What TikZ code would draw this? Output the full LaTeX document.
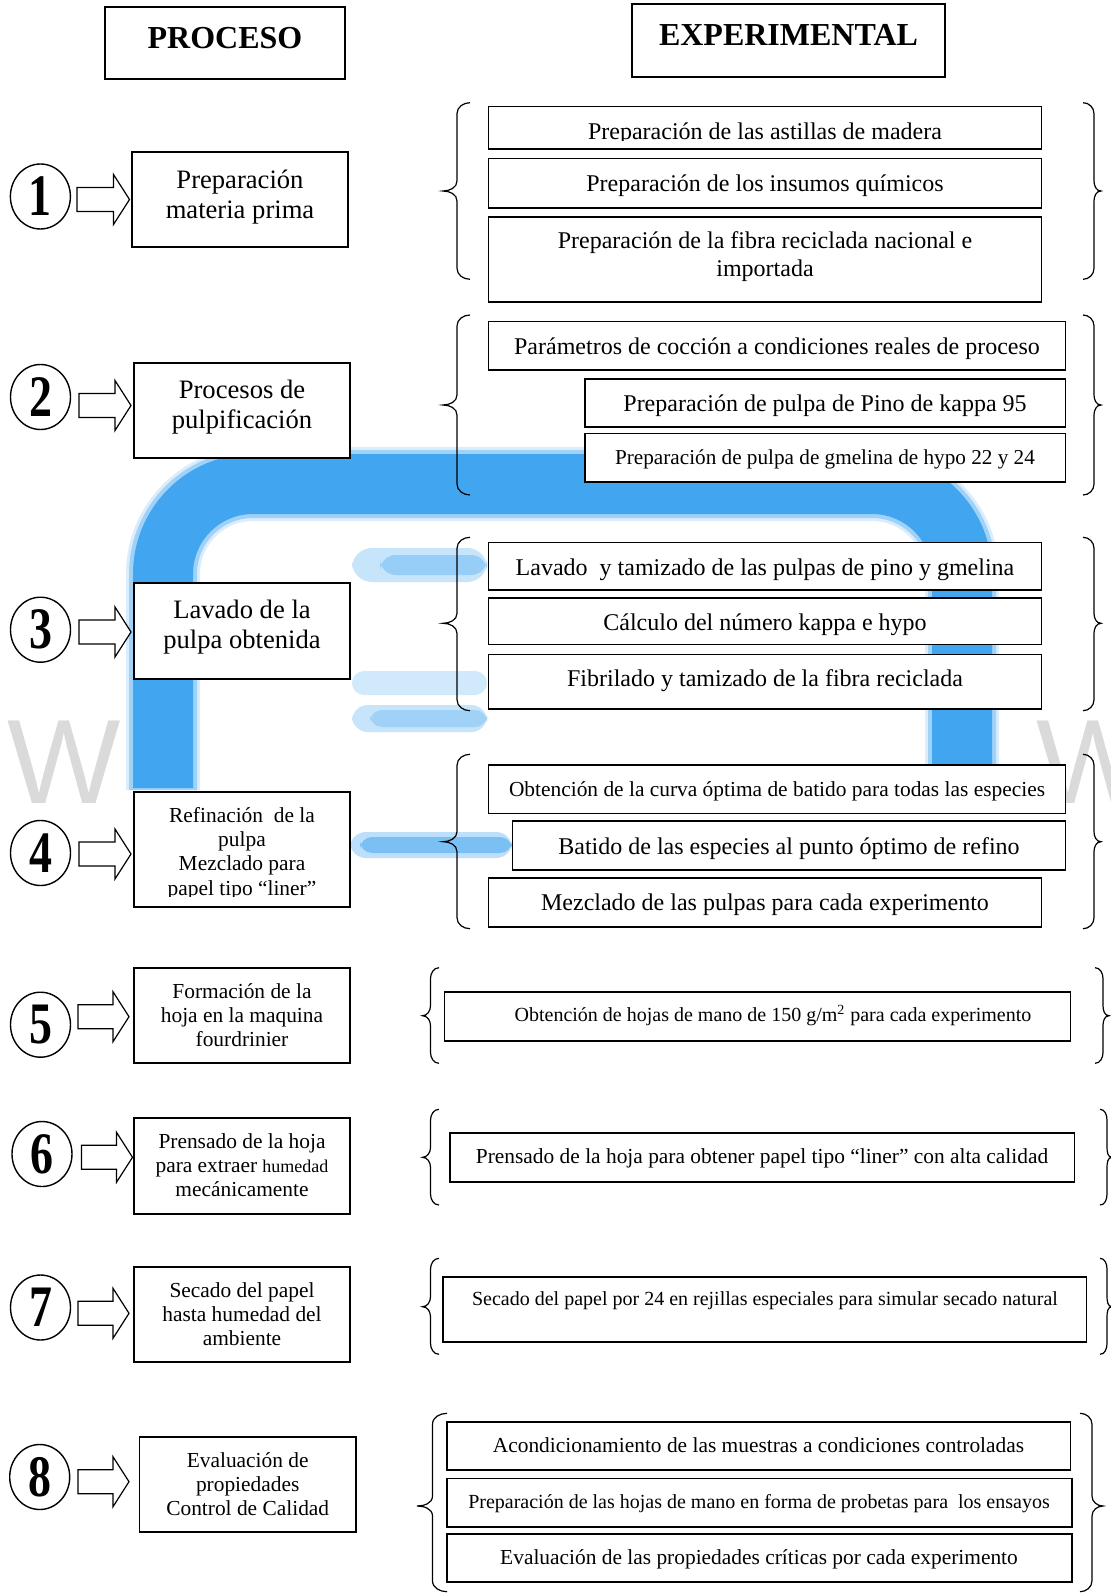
\documentclass[tikz,border=0pt]{standalone}
\usepackage{fontspec}
\usepackage{graphicx}
\setmainfont{Liberation Serif}
\newfontfamily\wmfont{Liberation Sans}
\usetikzlibrary{calc,shapes.geometric}
\definecolor{wmblue}{RGB}{66,165,240}
\definecolor{wmgray}{RGB}{218,218,218}
\newcommand\fs[2]{\fontsize{#1}{#2}\selectfont}
\newcommand\dg[1]{\scalebox{0.82}[1.05]{#1}}
\newcommand\bx[5]{%
  \pgfmathsetmacro\bxw{(#4-#2)*0.5}%
  \pgfmathsetmacro\bxh{(#5-#3)*0.5}%
  \node[box, minimum width=\bxw pt, minimum height=\bxh pt] (#1) at ({(#2+#4)/2},{(#3+#5)/2}) {};}
\newcommand\lbr[6]{\draw[bracel] (#1,#4) to[out=180,in=90] (#2,#4+11) -- (#2,#6-10) to[out=-90,in=0] (#3,#6) to[out=0,in=90] (#2,#6+10) -- (#2,#5-11) to[out=-90,in=180] (#1,#5);}
\newcommand\rbr[6]{\draw[bracel] (#1,#4) to[out=0,in=90] (#2,#4+11) -- (#2,#6-10) to[out=-90,in=180] (#3,#6) to[out=180,in=90] (#2,#6+10) -- (#2,#5-11) to[out=-90,in=0] (#1,#5);}
\newcommand\blockarrow[2]{\draw[arrowline] let \p1=(#1), \p2=(#2) in (\x1,\y1+6pt) -- (\x2-8pt,\y1+6pt) -- (\x2-8pt,\y1+12.5pt) -- (\x2,\y1) -- (\x2-8pt,\y1-12.5pt) -- (\x2-8pt,\y1-6pt) -- (\x1,\y1-6pt) -- cycle;}
\begin{document}
\begin{tikzpicture}[x=0.5pt,y=-0.5pt,
  box/.style={draw, line width=0.8pt, fill=white, inner sep=0pt},
  txt/.style={inner sep=0pt, align=center},
  bracel/.style={line width=0.6pt},
  arrowline/.style={draw, line width=0.6pt, fill=white, line join=miter},
  ring/.style={rounded corners=45pt},
  circ/.style={draw, ellipse, line width=0.7pt, minimum width=30pt, minimum height=32.5pt, inner sep=0pt, font=\bfseries\fs{28}{28}}]
\useasboundingbox (0,0) rectangle (1110,1593);
\fill[white] (0,0) rectangle (1110,1593);
% ---------- watermark ----------
\node[anchor=base east, inner sep=0pt, text=wmgray, font=\wmfont\fs{60}{60}] (wmL) at (121,803) {W};
\node[anchor=base west, inner sep=0pt, text=wmgray, font=\wmfont\fs{60}{60}] (wmR) at (1036,803) {W};
\draw[wmblue!20, line width=37pt, ring] (163,790) -- (163,484) -- (962,484) -- (962,775);
\draw[wmblue!50, line width=34pt, ring] (163,790) -- (163,484) -- (962,484) -- (962,775);
\draw[wmblue, line width=30pt, ring] (163,788) -- (163,484) -- (962,484) -- (962,772);
\fill[wmblue!30, rounded corners=10pt] (352,548) rectangle (487,582);
\fill[wmblue!55, rounded corners=8pt] (380,555) rectangle (487,575);
\fill[wmblue!25, rounded corners=6pt] (352,671) rectangle (487,695);
\fill[wmblue!30, rounded corners=8pt] (352,705) rectangle (487,732);
\fill[wmblue!50, rounded corners=6pt] (370,710) rectangle (487,727);
\fill[wmblue!35, rounded corners=8pt] (350,832) rectangle (512,858);
\fill[wmblue!70, rounded corners=6pt] (360,837) rectangle (512,853);
% ---------- header boxes ----------
\bx{hP}{105}{7}{345}{79}
\bx{hE}{632}{4}{945}{77}
\node[txt, anchor=base, font=\bfseries\fs{16}{19}] (tP) at (225,48.3) {PROCESO};
\node[txt, anchor=base, font=\bfseries\fs{16}{19}] (tE) at (788.5,46) {EXPERIMENTAL};
% ---------- left boxes ----------
\bx{L1}{132}{152}{348}{247}
\bx{L2}{134}{363}{350}{458}
\bx{L3}{134}{583}{350}{679}
\bx{L4}{134}{792}{350}{907}
\bx{L5}{134}{968}{350}{1063}
\bx{L6}{134}{1118}{350}{1214}
\bx{L7}{134}{1267}{350}{1362}
\bx{L8}{139.5}{1437}{356}{1532}
\node[txt, anchor=north, font=\fs{13.3}{15}] (tL1) at (240,188.3-21) {\strut Preparación\\\strut materia prima};
\node[txt, anchor=north, font=\fs{13.3}{15}] (tL2) at (242,398.3-21) {\strut Procesos de\\\strut pulpificación};
\node[txt, anchor=north, font=\fs{13.3}{15}] (tL3) at (242,618.3-21) {\strut Lavado de la\\\strut pulpa obtenida};
\begin{scope}
\clip (134,792) rectangle (350,896.5);
\node[txt, anchor=north, font=\fs{10.7}{12.2}] (tL4) at (242,821.7-17.08) {\strut Refinación~ de la\\\strut pulpa\\\strut Mezclado para\\\strut papel tipo “liner”};
\end{scope}
\node[txt, anchor=north, font=\fs{10.7}{12}] (tL5) at (242,998.3-16.8) {\strut Formación de la\\\strut hoja en la maquina\\\strut fourdrinier};
\node[txt, anchor=north, font=\fs{10.7}{12}] (tL6) at (242,1148.3-16.8) {\strut Prensado de la hoja\\\strut para extraer {\fs{9}{12}humedad}\\\strut mecánicamente};
\node[txt, anchor=north, font=\fs{10.7}{12}] (tL7) at (242,1296.7-16.8) {\strut Secado del papel\\\strut hasta humedad del\\\strut ambiente};
\node[txt, anchor=north, font=\fs{10.7}{12}] (tL8) at (247.7,1466.7-16.8) {\strut Evaluación de\\\strut propiedades\\\strut Control de Calidad};
% ---------- right boxes ----------
\bx{R1a}{488.5}{106.7}{1041.3}{149.3}
\bx{R1b}{488.5}{158.7}{1041.3}{208}
\bx{R1c}{488.5}{217.3}{1041.3}{302}
\bx{R2a}{488.5}{321.7}{1065.4}{370}
\bx{R2b}{584.7}{379}{1065.4}{427}
\bx{R2c}{584.7}{433.7}{1065.4}{482}
\bx{R3a}{488.5}{542.3}{1041.3}{590}
\bx{R3b}{488.5}{597.7}{1041.3}{644.3}
\bx{R3c}{488.5}{654.3}{1041.3}{709}
\bx{R4a}{488.5}{765}{1065.4}{813.3}
\bx{R4b}{512.5}{821}{1065.4}{870}
\bx{R4c}{488.5}{877.7}{1041.3}{926.7}
\bx{R5}{444.6}{992}{1070.4}{1040.7}
\bx{R6}{450.2}{1132.7}{1074.6}{1181.7}
\bx{R7}{443.2}{1276.7}{1086.6}{1342}
\bx{R8a}{446.7}{1421.7}{1070.4}{1470}
\bx{R8b}{446.7}{1478.3}{1071.8}{1526.7}
\bx{R8c}{446.7}{1534}{1071.8}{1581.7}
\begin{scope}
\clip (488.5,106.7) rectangle (1041.3,140.8);
\node[txt, anchor=base, font=\fs{12}{14.4}] (t1a) at (765,139.5) {Preparación de las astillas de madera};
\end{scope}
\node[txt, anchor=base, font=\fs{12}{14.4}] (t1b) at (765,191.7) {Preparación de los insumos químicos};
\node[txt, anchor=north, font=\fs{12}{13.85}] (t1c) at (765,248.3-19.4) {\strut Preparación de la fibra reciclada nacional e\\\strut importada};
\node[txt, anchor=base, font=\fs{12}{14.4}] (t2a) at (777,355) {Parámetros de cocción a condiciones reales de proceso};
\node[txt, anchor=base, font=\fs{12}{14.4}] (t2b) at (825,411.7) {Preparación de pulpa de Pino de kappa 95};
\node[txt, anchor=base, font=\fs{10.6}{12.7}] (t2c) at (825,464.3) {Preparación de pulpa de gmelina de hypo 22 y 24};
\node[txt, anchor=base, font=\fs{12}{14.4}] (t3a) at (765,575) {Lavado~ y tamizado de las pulpas de pino y gmelina};
\node[txt, anchor=base, font=\fs{12}{14.4}] (t3b) at (765,630) {Cálculo del número kappa e hypo};
\node[txt, anchor=base, font=\fs{12}{14.4}] (t3c) at (765,686.7) {Fibrilado y tamizado de la fibra reciclada};
\node[txt, anchor=base, font=\fs{10.7}{12.8}] (t4a) at (777,796.7) {Obtención de la curva óptima de batido para todas las especies};
\node[txt, anchor=base, font=\fs{12}{14.4}] (t4b) at (789,854) {Batido de las especies al punto óptimo de refino};
\node[txt, anchor=base, font=\fs{12}{14.4}] (t4c) at (765,910.7) {Mezclado de las pulpas para cada experimento};
\node[txt, anchor=base, font=\fs{10}{12}] (t5) at (773,1021.7) {Obtención de hojas de mano de 150 g/m\textsuperscript{2} para cada experimento};
\node[txt, anchor=base, font=\fs{10.7}{12.8}] (t6) at (762,1163.3) {Prensado de la hoja para obtener papel tipo “liner” con alta calidad};
\node[txt, anchor=base, font=\fs{10}{12}] (t7) at (765,1305.7) {Secado del papel por 24 en rejillas especiales para simular secado natural};
\node[txt, anchor=base, font=\fs{10.7}{12.8}] (t8a) at (758.5,1452.3) {Acondicionamiento de las muestras a condiciones controladas};
\node[txt, anchor=base, font=\fs{10}{12}] (t8b) at (759,1508.3) {Preparación de las hojas de mano en forma de probetas para~ los ensayos};
\node[txt, anchor=base, font=\fs{10.7}{12.8}] (t8c) at (759,1564.3) {Evaluación de las propiedades críticas por cada experimento};
% ---------- braces ----------
\lbr{470}{457}{443}{102.7}{279.3}{191}
\rbr{1083}{1094}{1101}{102.7}{279.3}{191}
\lbr{470}{457}{443}{315}{495}{405}
\rbr{1083}{1094}{1101}{315}{495}{405}
\lbr{470}{457}{443}{537.3}{710.7}{623.3}
\rbr{1083}{1094}{1101}{537.3}{710.7}{623.3}
\lbr{470}{457}{443}{754.3}{928.7}{841.7}
\rbr{1083}{1094}{1101}{754.3}{928.7}{841.7}
\lbr{439}{430.5}{422.5}{967.7}{1063.3}{1015.7}
\rbr{1095}{1103}{1109}{967.7}{1063.3}{1015.7}
\lbr{439}{430.5}{422.5}{1109.3}{1205}{1157.3}
\rbr{1100}{1107}{1112}{1109.3}{1205}{1157.3}
\lbr{439}{430.5}{422.5}{1258.3}{1354.3}{1306.7}
\rbr{1100}{1107}{1112}{1258.3}{1354.3}{1306.7}
\lbr{447}{432.5}{417}{1413.3}{1591.7}{1506}
\rbr{1080}{1092}{1103}{1413.3}{1591.7}{1506}
% ---------- circles ----------
\node[circ] (c1) at (40.4,196.5) {\dg{1}};
\node[circ] (c2) at (40.5,397) {\dg{2}};
\node[circ] (c3) at (40.5,629.7) {\dg{3}};
\node[circ] (c4) at (40.5,853) {\dg{4}};
\node[circ] (c5) at (40.5,1024.7) {\dg{5}};
\node[circ] (c6) at (42,1154) {\dg{6}};
\node[circ] (c7) at (40.5,1307.5) {\dg{7}};
\node[circ] (c8) at (39.7,1477) {\dg{8}};
% ---------- block arrows ----------
\coordinate (a1s) at (77,199.5);   \coordinate (a1t) at (129.5,199.5);
\coordinate (a2s) at (79,405.5);   \coordinate (a2t) at (131,405.5);
\coordinate (a3s) at (79,632);     \coordinate (a3t) at (131,632);
\coordinate (a4s) at (79,854);     \coordinate (a4t) at (131,854);
\coordinate (a5s) at (78,1016.7);  \coordinate (a5t) at (129,1016.7);
\coordinate (a6s) at (81.5,1157.3);\coordinate (a6t) at (132.5,1157.3);
\coordinate (a7s) at (78,1313.3);  \coordinate (a7t) at (129,1313.3);
\coordinate (a8s) at (78,1481.7);  \coordinate (a8t) at (129,1481.7);
\blockarrow{a1s}{a1t}
\blockarrow{a2s}{a2t}
\blockarrow{a3s}{a3t}
\blockarrow{a4s}{a4t}
\blockarrow{a5s}{a5t}
\blockarrow{a6s}{a6t}
\blockarrow{a7s}{a7t}
\blockarrow{a8s}{a8t}
\end{tikzpicture}
\end{document}
